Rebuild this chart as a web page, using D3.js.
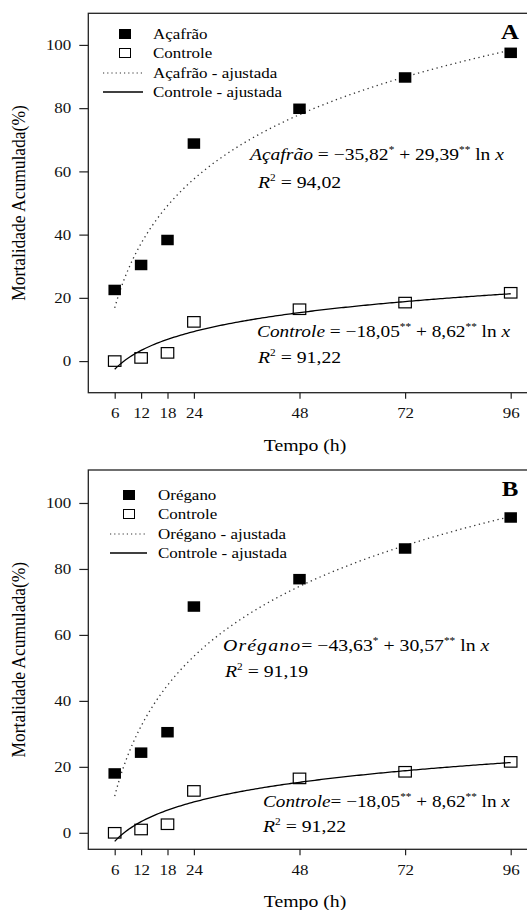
<!DOCTYPE html>
<head>
  <meta charset="utf-8">
  <script src="https://d3js.org/d3.v7.min.js"></script>
  <style>
    body { margin: 0; background: #fff; }
    svg { display: block; }
  </style>
</head>
<body>
  <svg width="527" height="910"></svg>
  <script>
    // time points (h)
    var hours = [6, 12, 18, 24, 48, 72, 96];

    // panel A
    var acafrao = [22.5, 30.4, 38.3, 68.8, 79.8, 89.7, 97.5];
    var controleA = [0, 1.0, 2.6, 12.4, 16.4, 18.5, 21.6];
    // panel B
    var oregano = [18.0, 24.3, 30.5, 68.6, 76.9, 86.2, 95.6];
    var controleB = [0, 1.0, 2.6, 12.7, 16.5, 18.5, 21.5];

    // fitted ln models printed on the chart: y = a + b ln x
    var fitAcafrao = [-35.82, 29.39];
    var fitOregano = [-43.63, 30.57];
    var fitControle = [-18.05, 8.62];

    var xTicks = [6, 12, 18, 24, 48, 72, 96];
    var yTicks = [0, 20, 40, 60, 80, 100];

    var FONT = '"Liberation Serif"';
    var S = 1.13; // the original's lettering is a bit wider than tall
    var svg = d3.select('svg');
    var x = d3.scaleLinear().domain([0, 100]).range([88.3, 528.3]);

    var panels = [
      { top: 13.3, bottom: 392.7, ydom: [-10, 110], trt: acafrao, ctl: controleA, fit: fitAcafrao,
        name: 'Açafrão', letter: 'A',
        leg: { sx: 125, tx: 153, y: 34, lx0: 103, lx1: 143 },
        eq1: { x: 250, y: 160, fs: 17.3, name: 'Açafrão', eq: ' = −35,82', s1: '*', mid: ' + 29,39', s2: '**' },
        r1: { x: 258, y: 188, v: ' = 94,02' },
        eq2: { x: 257, y: 337, fs: 17.1, eq: ' = −18,05' }, r2: { x: 258, y: 363, v: ' = 91,22' } },
      { top: 470, bottom: 849.3, ydom: [-5, 110], trt: oregano, ctl: controleB, fit: fitOregano,
        name: 'Orégano', letter: 'B',
        leg: { sx: 129, tx: 158, y: 495, lx0: 110, lx1: 147 },
        eq1: { x: 223, y: 651, fs: 17.5, name: 'Orégano', eq: '= −43,63', s1: '*', mid: ' + 30,57', s2: '**' },
        r1: { x: 225, y: 677, v: ' = 91,19' },
        eq2: { x: 263, y: 807, fs: 17, eq: '= −18,05' }, r2: { x: 263, y: 832, v: ' = 91,22' } }
    ];

    // widen a text element about its anchor point
    function stretch(t) {
      var tx = +t.attr('x') || 0, ty = +t.attr('y') || 0;
      t.attr('x', null).attr('y', null)
        .attr('transform', 'translate(' + tx + ',' + ty + ') scale(' + S + ',1)');
      return t;
    }

    var lnLine = function (fit, y) {
      var xs = d3.range(6, 96.01, 0.5);
      return d3.line()
        .x(function (d) { return x(d); })
        .y(function (d) { return y(fit[0] + fit[1] * Math.log(d)); })(xs);
    };

    function equation(g, o, name, eq, s1, mid, s2) {
      var t = g.append('text').attr('x', o.x).attr('y', o.y)
        .attr('font-family', FONT).attr('font-size', o.fs);
      t.append('tspan').attr('font-style', 'italic')
        .attr('letter-spacing', name === 'Orégano' ? 1 : 0).text(name);
      t.append('tspan').text(eq);
      t.append('tspan').attr('dy', -7).attr('font-size', 10).text(s1);
      t.append('tspan').attr('dy', 7).text(mid);
      t.append('tspan').attr('dy', -7).attr('font-size', 10).text(s2);
      t.append('tspan').attr('dy', 7).text(' ln ');
      t.append('tspan').attr('font-style', 'italic').text('x');
      stretch(t);
    }

    function rsq(g, o) {
      var t = g.append('text').attr('x', o.x).attr('y', o.y)
        .attr('font-family', FONT).attr('font-size', 17.5);
      t.append('tspan').attr('font-style', 'italic').text('R');
      t.append('tspan').attr('dy', -7).attr('font-size', 10).text('2');
      t.append('tspan').attr('dy', 7).text(o.v);
      stretch(t);
    }

    panels.forEach(function (p) {
      var y = d3.scaleLinear().domain(p.ydom).range([p.bottom, p.top]);
      var g = svg.append('g');

      // frame (right edge falls just off the page)
      g.append('rect')
        .attr('x', x(0)).attr('y', p.top)
        .attr('width', x(100) - x(0)).attr('height', p.bottom - p.top)
        .attr('fill', 'none').attr('stroke', '#222').attr('stroke-width', 1.3);

      // y axis
      var yAxis = d3.axisLeft(y).tickValues(yTicks).tickSize(9).tickPadding(8);
      var ya = g.append('g').attr('transform', 'translate(' + x(0) + ',0)').call(yAxis);
      ya.attr('font-family', FONT).attr('font-size', 15);
      ya.select('.domain').remove();
      ya.selectAll('line').attr('stroke', '#222').attr('stroke-width', 1.2);
      ya.selectAll('text').attr('fill', '#111').each(function () { stretch(d3.select(this)); });

      // x axis
      var xAxis = d3.axisBottom(x).tickValues(xTicks).tickSize(6).tickPadding(9);
      var xa = g.append('g').attr('transform', 'translate(0,' + p.bottom + ')').call(xAxis);
      xa.attr('font-family', FONT).attr('font-size', 15);
      xa.select('.domain').remove();
      xa.selectAll('line').attr('stroke', '#222').attr('stroke-width', 1.2);
      xa.selectAll('text').attr('fill', '#111').each(function () { stretch(d3.select(this)); });

      // axis titles
      stretch(g.append('text')
        .attr('x', 305).attr('y', p.bottom + 58)
        .attr('text-anchor', 'middle').attr('font-family', FONT).attr('font-size', 17.5)
        .text('Tempo (h)'));
      g.append('text')
        .attr('transform', 'translate(25,' + ((p.top + p.bottom) / 2) + ') rotate(-90) scale(1,' + S + ')')
        .attr('text-anchor', 'middle').attr('font-family', FONT).attr('font-size', 17.5)
        .text('Mortalidade Acumulada(%)');

      // fitted curves
      g.append('path').attr('d', lnLine(p.fit, y))
        .attr('fill', 'none').attr('stroke', '#333').attr('stroke-width', 1.3)
        .attr('stroke-dasharray', '1.3,3.5');
      g.append('path').attr('d', lnLine(fitControle, y))
        .attr('fill', 'none').attr('stroke', '#000').attr('stroke-width', 1.3);

      var sw = 12.5, sh = 10.5;
      // control points (open squares)
      g.selectAll('.ctl').data(p.ctl).enter().append('rect')
        .attr('x', function (d, i) { return x(hours[i]) - sw / 2; })
        .attr('y', function (d) { return y(d) - sh / 2; })
        .attr('width', sw).attr('height', sh)
        .attr('fill', 'none').attr('stroke', '#000').attr('stroke-width', 1.2);
      // treatment points (filled squares)
      g.selectAll('.trt').data(p.trt).enter().append('rect')
        .attr('x', function (d, i) { return x(hours[i]) - sw / 2; })
        .attr('y', function (d) { return y(d) - sh / 2; })
        .attr('width', sw).attr('height', sh)
        .attr('fill', '#000');

      // legend
      var L = p.leg;
      g.append('rect').attr('x', L.sx - 6).attr('y', L.y - 5).attr('width', 12).attr('height', 10).attr('fill', '#000');
      g.append('rect').attr('x', L.sx - 5.5).attr('y', L.y + 19 - 4.5).attr('width', 11).attr('height', 9)
        .attr('fill', 'none').attr('stroke', '#000').attr('stroke-width', 1);
      g.append('line').attr('x1', L.lx0).attr('x2', L.lx1).attr('y1', L.y + 39).attr('y2', L.y + 39)
        .attr('stroke', '#333').attr('stroke-width', 1.2).attr('stroke-dasharray', '1.2,3');
      g.append('line').attr('x1', L.lx0).attr('x2', L.lx1).attr('y1', L.y + 58).attr('y2', L.y + 58)
        .attr('stroke', '#000').attr('stroke-width', 1.3);
      var labels = [p.name, 'Controle', p.name + ' - ajustada', 'Controle - ajustada'];
      labels.forEach(function (s, i) {
        stretch(g.append('text').attr('x', L.tx).attr('y', L.y + i * 19.3 + 5)
          .attr('font-family', FONT).attr('font-size', 15).text(s));
      });

      // panel letter
      stretch(g.append('text').attr('x', 510).attr('y', p.top + 26)
        .attr('text-anchor', 'middle').attr('font-family', FONT)
        .attr('font-size', 22).attr('font-weight', 'bold')
        .text(p.letter));

      // equations
      var e = p.eq1;
      equation(g, e, e.name, e.eq, e.s1, e.mid, e.s2);
      rsq(g, p.r1);
      equation(g, p.eq2, 'Controle', p.eq2.eq, '**', ' + 8,62', '**');
      rsq(g, p.r2);
    });
  </script>
</body>
